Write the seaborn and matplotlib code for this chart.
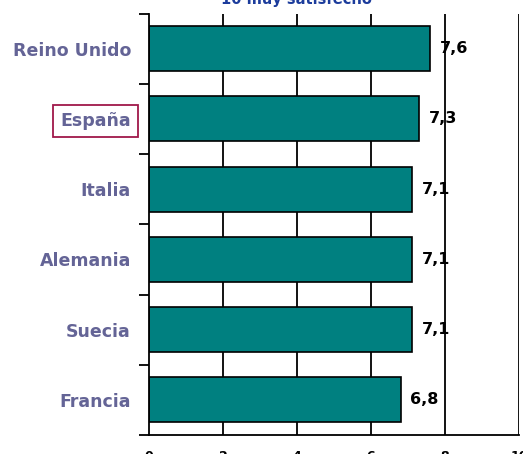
import matplotlib
matplotlib.use('Agg')
import matplotlib.pyplot as plt
import seaborn as sns
import numpy as np
from matplotlib.ticker import FixedLocator

countries = ["Reino Unido", "España", "Italia", "Alemania", "Suecia", "Francia"]
values = [7.6, 7.3, 7.1, 7.1, 7.1, 6.8]
xticks = [0, 2, 4, 6, 8, 10]
title = "10 muy satisfecho"

sns.set_style("white")
plt.rcParams['font.family'] = ['DejaVu Sans']

W, H = 523, 454
fig = plt.figure(figsize=(W / 100, H / 100), dpi=100)
ax = fig.add_axes([149 / W, 1 - 435 / H, 370 / W, (435 - 13.6) / H])

sns.barplot(x=values, y=countries, orient='h', color='#008080', saturation=1,
            edgecolor='black', linewidth=1.2, width=0.64, ax=ax, zorder=3)

for x in xticks[1:]:
    ax.axvline(x, color='black', lw=1.3, zorder=1)

ax.set_xlim(0, 10)
ax.set_ylim(5.5, -0.5)
for s in ['top', 'right']:
    ax.spines[s].set_visible(False)
for s in ['left', 'bottom']:
    ax.spines[s].set_color('black')
    ax.spines[s].set_linewidth(1.3)
    ax.spines[s].set_zorder(5)

ax.set_xticks(xticks)
ax.set_xticklabels([str(t) for t in xticks], fontweight='bold', fontsize=9)
ax.tick_params(axis='x', direction='out', length=3, width=1.3, pad=8, colors='black')

ax.yaxis.set_minor_locator(FixedLocator(np.arange(-0.5, 6, 1)))
ax.tick_params(axis='y', which='major', length=0, pad=13)
ax.tick_params(axis='y', which='minor', direction='out', length=7, width=1.3, color='black', left=True)
for lab in ax.get_yticklabels():
    lab.set_fontweight('bold')
    lab.set_fontsize(12.5)
    lab.set_color('#646496')
    if lab.get_text() == "España":
        lab.set_bbox(dict(boxstyle='square,pad=0.4', fc='white', ec='#a0184a', lw=1.3))

ax.bar_label(ax.containers[0], labels=[f"{v:.1f}".replace('.', ',') for v in values],
             padding=7, fontweight='bold', fontsize=11.5, color='black', zorder=6)

ax.set_xlabel('')
ax.set_ylabel('')

fig.text(296 / W, 1 - 4 / H, title, ha='center', va='baseline', color='#1c3c9c',
         fontweight='bold', fontsize=10.5)

fig.savefig('out.png', dpi=100)
